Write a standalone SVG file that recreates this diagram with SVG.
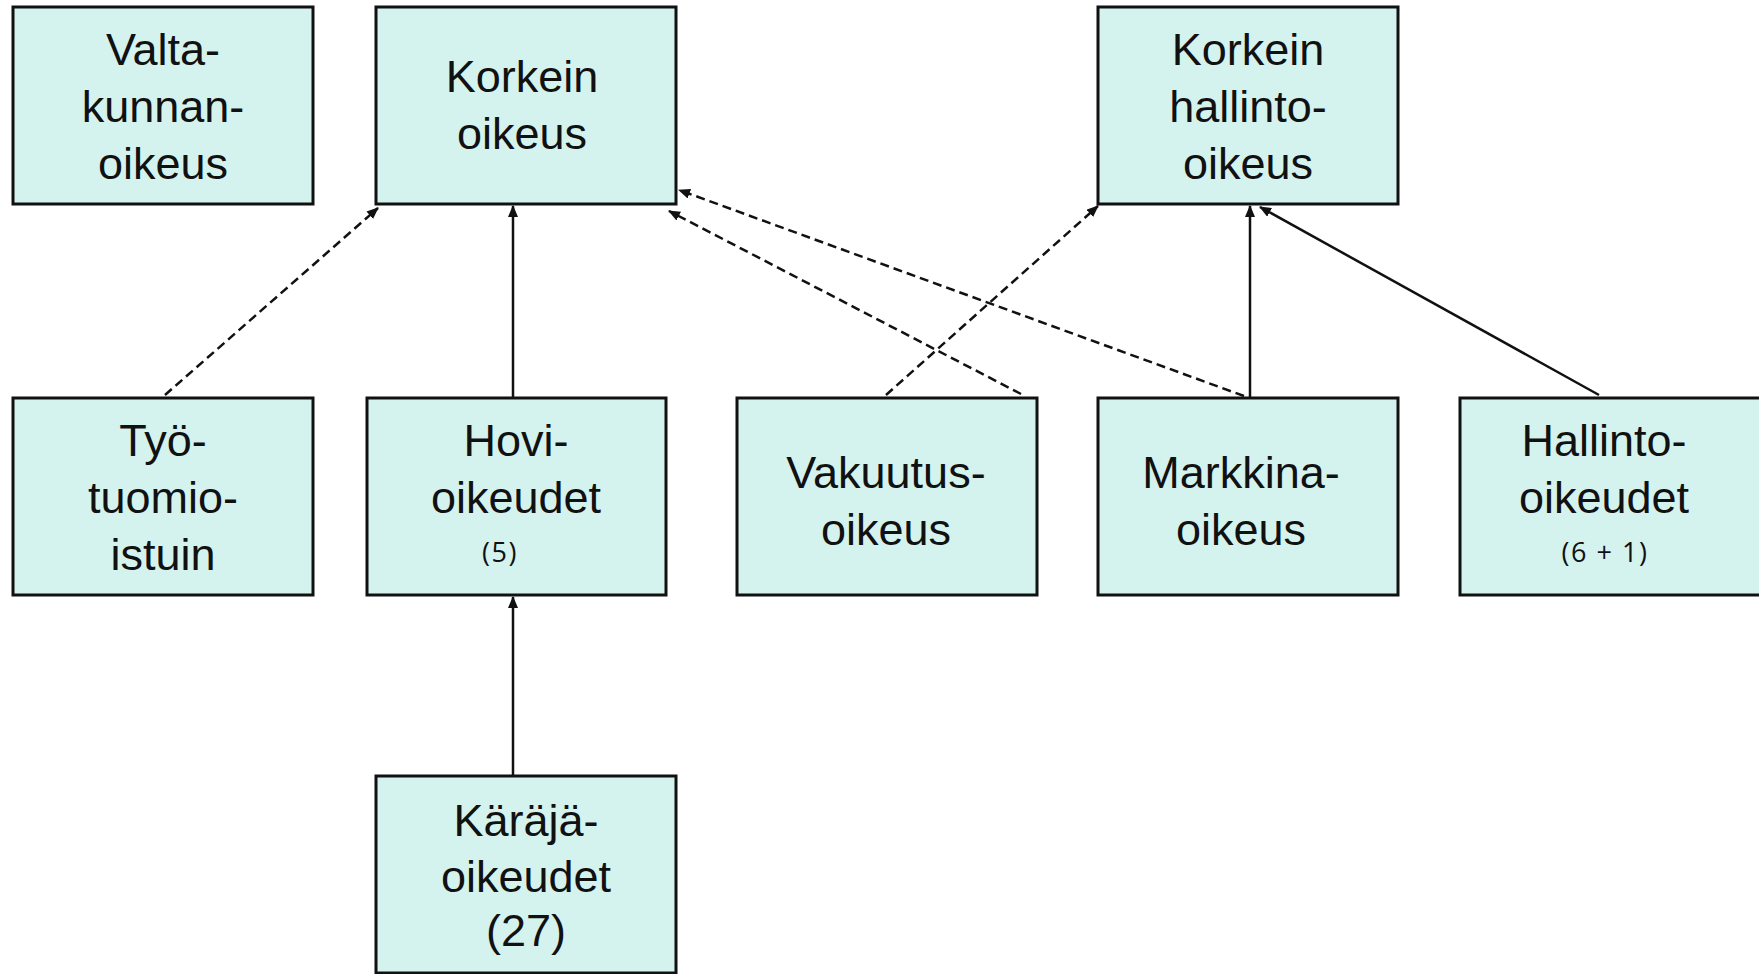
<svg xmlns="http://www.w3.org/2000/svg" width="1759" height="974" viewBox="0 0 1759 974">
<style>
.box{fill:#d4f3ef;stroke:#111;stroke-width:3}
.t{font-family:"Liberation Sans",Arial,sans-serif;font-size:45px;fill:#111;text-anchor:middle}
.s{font-family:"Open Sans","Liberation Sans",sans-serif;font-size:27px;fill:#111;text-anchor:middle;letter-spacing:1.5px}
.c{stroke:#111;stroke-width:2.5;fill:none}
.d{stroke-dasharray:9 5}
</style>
<defs>
<marker id="ah" markerUnits="userSpaceOnUse" markerWidth="12" markerHeight="10" refX="11" refY="5" orient="auto">
<path d="M0,0 L12,5 L0,10 Z" fill="#111"/>
</marker>
</defs>
<rect width="1759" height="974" fill="#fff"/>
<g id="connectors">
<line class="c d" x1="165" y1="395" x2="378" y2="208" marker-end="url(#ah)"/>
<line class="c" x1="513" y1="398" x2="513" y2="206" marker-end="url(#ah)"/>
<line class="c" x1="513" y1="776" x2="513" y2="597" marker-end="url(#ah)"/>
<line class="c d" x1="1021" y1="394" x2="669" y2="211" marker-end="url(#ah)"/>
<line class="c d" x1="1244" y1="396" x2="679" y2="190" marker-end="url(#ah)"/>
<line class="c d" x1="886" y1="395" x2="1098" y2="206" marker-end="url(#ah)"/>
<line class="c" x1="1250" y1="398" x2="1250" y2="206" marker-end="url(#ah)"/>
<line class="c" x1="1599" y1="395" x2="1260" y2="207" marker-end="url(#ah)"/>
</g>
<g id="valtakunnanoikeus">
<rect class="box" x="13" y="7" width="300" height="197"/>
<text class="t" x="163" y="65">Valta-</text>
<text class="t" x="163" y="122">kunnan-</text>
<text class="t" x="163" y="179">oikeus</text>
</g>
<g id="korkein-oikeus">
<rect class="box" x="376" y="7" width="300" height="197"/>
<text class="t" x="522" y="92">Korkein</text>
<text class="t" x="522" y="149">oikeus</text>
</g>
<g id="korkein-hallinto-oikeus">
<rect class="box" x="1098" y="7" width="300" height="197"/>
<text class="t" x="1248" y="65">Korkein</text>
<text class="t" x="1248" y="122">hallinto-</text>
<text class="t" x="1248" y="179">oikeus</text>
</g>
<g id="tyotuomioistuin">
<rect class="box" x="13" y="398" width="300" height="197"/>
<text class="t" x="163" y="456">Työ-</text>
<text class="t" x="163" y="513">tuomio-</text>
<text class="t" x="163" y="570">istuin</text>
</g>
<g id="hovioikeudet">
<rect class="box" x="367" y="398" width="299" height="197"/>
<text class="t" x="516" y="456">Hovi-</text>
<text class="t" x="516" y="513">oikeudet</text>
<text class="s" x="500" y="562">(5)</text>
</g>
<g id="vakuutusoikeus">
<rect class="box" x="737" y="398" width="300" height="197"/>
<text class="t" x="886" y="488">Vakuutus-</text>
<text class="t" x="886" y="545">oikeus</text>
</g>
<g id="markkinaoikeus">
<rect class="box" x="1098" y="398" width="300" height="197"/>
<text class="t" x="1241" y="488">Markkina-</text>
<text class="t" x="1241" y="545">oikeus</text>
</g>
<g id="hallinto-oikeudet">
<rect class="box" x="1460" y="398" width="301" height="197"/>
<text class="t" x="1604" y="456">Hallinto-</text>
<text class="t" x="1604" y="513">oikeudet</text>
<text class="s" x="1605" y="562">(6 + 1)</text>
</g>
<g id="karajaoikeudet">
<rect class="box" x="376" y="776" width="300" height="197"/>
<text class="t" x="526" y="836">Käräjä-</text>
<text class="t" x="526" y="892">oikeudet</text>
<text class="t" x="526" y="946">(27)</text>
</g>
</svg>
